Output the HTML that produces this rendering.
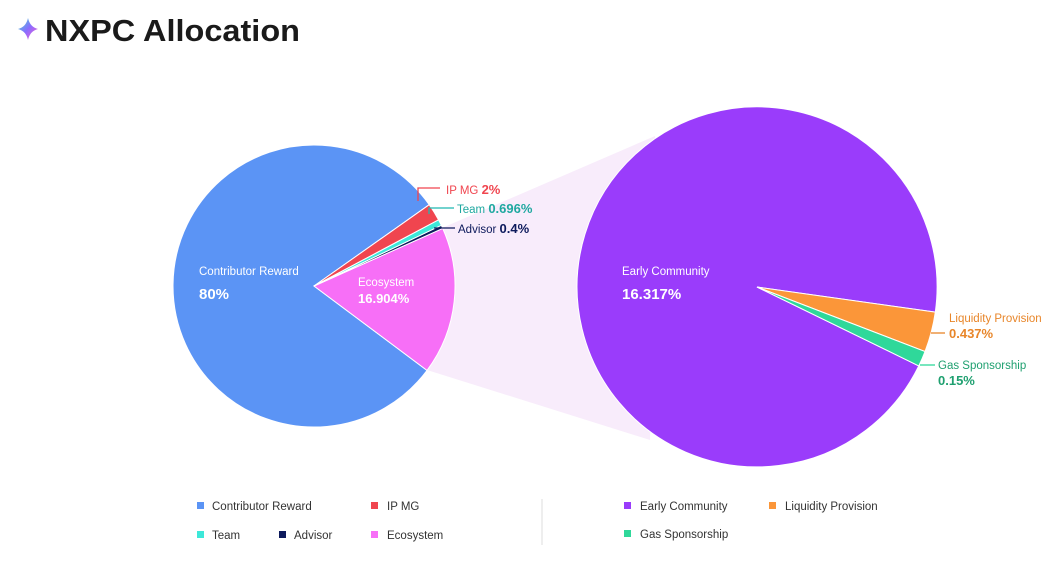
<!DOCTYPE html>
<html><head><meta charset="utf-8"><style>
body{margin:0;background:#fff;width:1062px;height:559px;overflow:hidden;font-family:"Liberation Sans",sans-serif}
</style></head><body>
<svg width="1062" height="559" viewBox="0 0 1062 559" xmlns="http://www.w3.org/2000/svg" font-family="Liberation Sans, sans-serif">
<defs><linearGradient id="g" x1="0" y1="0" x2="1" y2="1"><stop offset="0" stop-color="#3ee0d0"/><stop offset="0.5" stop-color="#8a6cff"/><stop offset="1" stop-color="#ff5fd0"/></linearGradient></defs>
<path d="M28 18 Q30 27 38 29 Q30 31 28 40 Q26 31 18 29 Q26 27 28 18Z" fill="url(#g)"/>
<text x="45" y="41" font-size="31" font-weight="bold" fill="#1a1a1a" textLength="255" lengthAdjust="spacingAndGlyphs">NXPC Allocation</text>

<polygon points="442,228 655,136 650,440 427,370" fill="#f8ecfb"/>

<!-- left pie -->
<g stroke="#fff" stroke-width="1">
<path d="M314,286 L429.2,204.7 A141,141 0 1,0 427,370.4 Z" fill="#5b94f5"/>
<path d="M314,286 L442.7,228.4 A141,141 0 0,1 427,370.4 Z" fill="#f76ff7"/>
<path d="M314,286 L441.3,225.3 A141,141 0 0,1 442.7,228.4 Z" fill="#0d1a5c"/>
<path d="M314,286 L438.5,219.8 A141,141 0 0,1 441.3,225.3 Z" fill="#3de8d9"/>
<path d="M314,286 L429.2,204.7 A141,141 0 0,1 438.5,219.8 Z" fill="#f0454f"/>
</g>
<text x="199" y="275" font-size="11.5" fill="#fff">Contributor Reward</text>
<text x="199" y="299" font-size="15" font-weight="bold" fill="#fff">80%</text>
<text x="358" y="286" font-size="11.5" fill="#fff">Ecosystem</text>
<text x="358" y="303" font-size="13" font-weight="bold" fill="#fff">16.904%</text>

<polyline points="418,201 418,188 440,188" fill="none" stroke="#f0454f" stroke-width="1.3"/>
<text x="446" y="194" font-size="11.5" fill="#f0454f">IP MG <tspan font-weight="bold" font-size="13">2%</tspan></text>
<polyline points="429,214 429,208 454,208" fill="none" stroke="#1fb8b0" stroke-width="1.3"/>
<text x="457" y="213" font-size="11.5" fill="#1fa8a0">Team <tspan font-weight="bold" font-size="13">0.696%</tspan></text>
<line x1="434" y1="228" x2="455" y2="228" stroke="#0d1a5c" stroke-width="1.3"/>
<text x="458" y="233" font-size="11.5" fill="#0d1a5c">Advisor <tspan font-weight="bold" font-size="13">0.4%</tspan></text>

<!-- right pie -->
<g stroke="#fff" stroke-width="1">
<path d="M757,287 L918.8,365.9 A180,180 0 1,1 935.3,312.1 Z" fill="#9a3cfb"/>
<path d="M757,287 L935.3,312.1 A180,180 0 0,1 925,351.5 Z" fill="#fb9639"/>
<path d="M757,287 L925,351.5 A180,180 0 0,1 918.8,365.9 Z" fill="#2fd89a"/>
</g>
<text x="622" y="275" font-size="11.5" fill="#fff">Early Community</text>
<text x="622" y="299" font-size="15" font-weight="bold" fill="#fff">16.317%</text>
<line x1="931" y1="333" x2="945" y2="333" stroke="#e8862a" stroke-width="1.3"/>
<text x="949" y="322" font-size="11.5" fill="#e8862a">Liquidity Provision</text>
<text x="949" y="338" font-size="13" font-weight="bold" fill="#e8862a">0.437%</text>
<line x1="920" y1="365" x2="935" y2="365" stroke="#2fd89a" stroke-width="1.3"/>
<text x="938" y="369" font-size="11.5" fill="#1fa070">Gas Sponsorship</text>
<text x="938" y="385" font-size="13" font-weight="bold" fill="#1fa070">0.15%</text>

<!-- legend -->
<g font-size="11.5" fill="#333">
<rect x="197" y="502" width="7" height="7" fill="#5b94f5"/><text x="212" y="510">Contributor Reward</text>
<rect x="371" y="502" width="7" height="7" fill="#f0454f"/><text x="387" y="510">IP MG</text>
<rect x="197" y="531" width="7" height="7" fill="#3de8d9"/><text x="212" y="539">Team</text>
<rect x="279" y="531" width="7" height="7" fill="#0d1a5c"/><text x="294" y="539">Advisor</text>
<rect x="371" y="531" width="7" height="7" fill="#f76ff7"/><text x="387" y="539">Ecosystem</text>
<line x1="542" y1="499" x2="542" y2="545" stroke="#ddd" stroke-width="1"/>
<rect x="624" y="502" width="7" height="7" fill="#9a3cfb"/><text x="640" y="510">Early Community</text>
<rect x="769" y="502" width="7" height="7" fill="#fb9639"/><text x="785" y="510">Liquidity Provision</text>
<rect x="624" y="530" width="7" height="7" fill="#2fd89a"/><text x="640" y="538">Gas Sponsorship</text>
</g>
</svg>
</body></html>
